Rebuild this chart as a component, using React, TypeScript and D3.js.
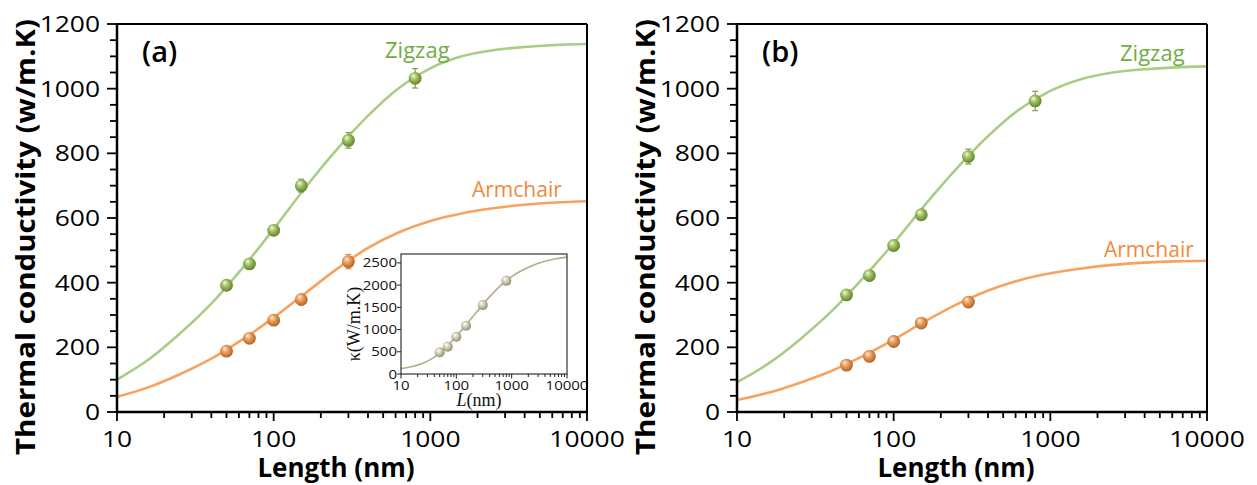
import * as d3 from 'd3'

const FIT_L = [10, 16, 25, 40, 63, 100, 158, 251, 398, 631, 1000, 1585, 2512, 3981, 6310, 10000]

const fitZigzagA = [100, 163, 241, 335, 444, 566, 692, 810, 915, 1002, 1063, 1100, 1119, 1129, 1135, 1138]
const fitArmchairA = [47, 77, 116, 165, 224, 292, 366, 441, 507, 556, 591, 614, 630, 641, 648, 652]
const fitZigzagB = [92, 151, 223, 311, 412, 522, 640, 752, 852, 935, 993, 1030, 1050, 1060, 1066, 1069]
const fitArmchairB = [37, 60, 90, 127, 172, 224, 280, 332, 375, 407, 429, 444, 455, 462, 466, 468]
const fitInset = [125, 169, 243, 381, 591, 851, 1141, 1443, 1735, 1990, 2190, 2340, 2453, 2535, 2592, 2630]

// measured points
const zigL = [50, 70, 100, 150, 300, 800]
const armL = [50, 70, 100, 150, 300]

const zigzagA = [392, 458, 562, 700, 840, 1032]
const zigzagAErr = [0, 0, 8, 20, 24, 30]
const armchairA = [188, 228, 284, 348, 465]
const armchairAErr = [0, 0, 0, 15, 22]

const zigzagB = [362, 422, 515, 610, 790, 962]
const zigzagBErr = [0, 0, 0, 10, 23, 30]
const armchairB = [145, 172, 218, 275, 340]
const armchairBErr = [0, 0, 0, 0, 12]

const insetVals = [487, 613, 838, 1085, 1550, 2096]

const yTicks = [0, 200, 400, 600, 800, 1000, 1200]
const xTicks = [10, 100, 1000, 10000]
const insetYTicks = [0, 500, 1000, 1500, 2000, 2500]

const FONT = '"Open Sans", "Noto Sans", sans-serif'
const SERIF = '"Liberation Serif", "DejaVu Serif", serif'
const TOP = 24
const BOTTOM = 412
const PW = 470

const GREEN_LINE = '#a9cd84'
const GREEN_TEXT = '#6fae45'
const ORANGE_LINE = '#f7a35f'
const ORANGE_TEXT = '#f08a3c'

const minorLog = (lo: number, hi: number) => {
  const out: number[] = []
  for (let d = lo; d < hi; d *= 10) for (let k = 2; k <= 9; k++) out.push(d * k)
  return out
}

function Sphere({ cx, cy, r, grad }: { cx: number; cy: number; r: number; grad: string }) {
  return <circle cx={cx} cy={cy} r={r} fill={`url(#${grad})`} />
}

function ErrBar({ x, y0, y1, color }: { x: number; y0: number; y1: number; color: string }) {
  return (
    <g stroke={color} strokeWidth={1.2}>
      <line x1={x} x2={x} y1={y0} y2={y1} />
      <line x1={x - 3} x2={x + 3} y1={y0} y2={y0} />
      <line x1={x - 3} x2={x + 3} y1={y1} y2={y1} />
    </g>
  )
}

function Inset() {
  const xi = d3.scaleLog().domain([10, 10000]).range([401, 567])
  const yi = d3.scaleLinear().domain([0, 2700]).range([374, 254])
  const line = d3.line<number>().x((_, i) => xi(FIT_L[i])).y((d) => yi(d)).curve(d3.curveMonotoneX)
  return (
    <g>
      <rect x={401} y={254} width={166} height={120} fill="#fff" />
      <path d={line(fitInset) || ''} fill="none" stroke="#b5ad8b" strokeWidth={1.6} />
      {zigL.map((l, i) => (
        <Sphere key={l} cx={xi(l)} cy={yi(insetVals[i])} r={5} grad="gInset" />
      ))}
      <rect x={401} y={254} width={166} height={120} fill="none" stroke="#222" strokeWidth={1.1} />
      {insetYTicks.map((t) => (
        <g key={t}>
          <line x1={397} x2={401} y1={yi(t)} y2={yi(t)} stroke="#222" strokeWidth={1} />
          <text transform={`translate(397,${yi(t) + 4.5}) scale(1.2,1)`} textAnchor="end" fontSize={12.5} fontFamily={FONT} fill="#111">{t}</text>
        </g>
      ))}
      {minorLog(10, 10000).map((t) => (
        <line key={t} x1={xi(t)} x2={xi(t)} y1={374} y2={377} stroke="#222" strokeWidth={1} />
      ))}
      {xTicks.map((t) => (
        <g key={t}>
          <line x1={xi(t)} x2={xi(t)} y1={374} y2={378.5} stroke="#222" strokeWidth={1} />
          <text transform={`translate(${xi(t)},390) scale(1.2,1)`} textAnchor="middle" fontSize={12.5} fontFamily={FONT} fill="#111">{t}</text>
        </g>
      ))}
      <text transform="translate(360,324) rotate(-90)" textAnchor="middle" fontSize={18} fontFamily={SERIF} fill="#111">κ(W/m.K)</text>
      <text x={479} y={406} textAnchor="middle" fontSize={18} fontFamily={SERIF} fill="#111">
        <tspan fontStyle="italic">L</tspan>(nm)
      </text>
    </g>
  )
}

type PanelProps = {
  left: number
  tag: string
  fitZ: number[]
  fitA: number[]
  zig: number[]
  zigErr: number[]
  arm: number[]
  armErr: number[]
  zigPos: [number, number]
  armPos: [number, number]
  inset?: boolean
}

function Panel({ left, tag, fitZ, fitA, zig, zigErr, arm, armErr, zigPos, armPos, inset }: PanelProps) {
  const x = d3.scaleLog().domain([10, 10000]).range([left, left + PW])
  const y = d3.scaleLinear().domain([0, 1200]).range([BOTTOM, TOP])
  const line = d3.line<number>().x((_, i) => x(FIT_L[i])).y((d) => y(d)).curve(d3.curveMonotoneX)
  const right = left + PW

  return (
    <g>
      <path d={line(fitZ) || ''} fill="none" stroke={GREEN_LINE} strokeWidth={2.6} />
      <path d={line(fitA) || ''} fill="none" stroke={ORANGE_LINE} strokeWidth={2.6} />

      {zig.map((v, i) =>
        zigErr[i] > 0 ? <ErrBar key={'ze' + i} x={x(zigL[i])} y0={y(v + zigErr[i])} y1={y(v - zigErr[i])} color="#7f9f45" /> : null
      )}
      {arm.map((v, i) =>
        armErr[i] > 0 ? <ErrBar key={'ae' + i} x={x(armL[i])} y0={y(v + armErr[i])} y1={y(v - armErr[i])} color="#e8883a" /> : null
      )}
      {zig.map((v, i) => (
        <Sphere key={'z' + i} cx={x(zigL[i])} cy={y(v)} r={6.4} grad="gGreen" />
      ))}
      {arm.map((v, i) => (
        <Sphere key={'a' + i} cx={x(armL[i])} cy={y(v)} r={6.4} grad="gOrange" />
      ))}

      <text x={zigPos[0]} y={zigPos[1]} fontSize={22} fontFamily={FONT} fill={GREEN_TEXT}>Zigzag</text>
      <text x={armPos[0]} y={armPos[1]} fontSize={21} fontFamily={FONT} fill={ORANGE_TEXT}>Armchair</text>

      {inset && <Inset />}

      {/* frame */}
      <line x1={left} x2={right} y1={TOP} y2={TOP} stroke="#000" strokeWidth={2} />
      <line x1={right} x2={right} y1={TOP} y2={BOTTOM} stroke="#000" strokeWidth={2} />
      <line x1={left} x2={left} y1={TOP - 1} y2={BOTTOM + 1} stroke="#000" strokeWidth={2.5} />
      <line x1={left - 1} x2={right + 1} y1={BOTTOM} y2={BOTTOM} stroke="#000" strokeWidth={2.5} />

      {/* y ticks */}
      {d3.range(0, 1201, 50).map((t) => (
        <line key={'ym' + t} x1={left - (t % 200 === 0 ? 10 : 7)} x2={left} y1={y(t)} y2={y(t)} stroke="#000" strokeWidth={1.8} />
      ))}
      {yTicks.map((t) => (
        <text key={'yl' + t} transform={`translate(${left - 17},${y(t) + 8}) scale(1.2,1)`} textAnchor="end" fontSize={22} fontFamily={FONT} fill="#000">{t}</text>
      ))}

      {/* x ticks */}
      {minorLog(10, 10000).map((t) => (
        <line key={'xm' + t} x1={x(t)} x2={x(t)} y1={BOTTOM} y2={BOTTOM + 6} stroke="#000" strokeWidth={1.8} />
      ))}
      {xTicks.map((t) => (
        <g key={'xl' + t}>
          <line x1={x(t)} x2={x(t)} y1={BOTTOM} y2={BOTTOM + 9} stroke="#000" strokeWidth={1.8} />
          <text transform={`translate(${x(t)},447) scale(1.2,1)`} textAnchor="middle" fontSize={22} fontFamily={FONT} fill="#000">{t}</text>
        </g>
      ))}

      <text x={left + 219} y={477} textAnchor="middle" fontSize={26} fontWeight="bold" fontFamily={FONT} fill="#000">Length (nm)</text>
      <text
        transform={`translate(${left - 82},237) rotate(-90)`}
        textAnchor="middle"
        fontSize={27}
        fontWeight="bold"
        fontFamily={FONT}
        fill="#000"
        textLength={436}
        lengthAdjust="spacingAndGlyphs"
      >
        Thermal conductivity (w/m.K)
      </text>
      <text x={left + 25} y={62} fontSize={29} fontWeight={600} fontFamily={FONT} fill="#000">{tag}</text>
    </g>
  )
}

export default function App() {
  return (
    <div style={{ position: 'absolute', left: 0, top: 0 }}>
      <svg width={1257} height={485} style={{ display: 'block', background: '#fff' }}>
        <defs>
          <radialGradient id="gGreen" cx="45%" cy="45%" r="60%" fx="35%" fy="28%">
            <stop offset="0%" stopColor="#f3fbe2" />
            <stop offset="40%" stopColor="#a5c566" />
            <stop offset="100%" stopColor="#5a7a28" />
          </radialGradient>
          <radialGradient id="gOrange" cx="45%" cy="45%" r="60%" fx="35%" fy="28%">
            <stop offset="0%" stopColor="#fff0dc" />
            <stop offset="40%" stopColor="#eea060" />
            <stop offset="100%" stopColor="#a85e20" />
          </radialGradient>
          <radialGradient id="gInset" cx="45%" cy="45%" r="60%" fx="35%" fy="28%">
            <stop offset="0%" stopColor="#ffffff" />
            <stop offset="40%" stopColor="#d9d5bd" />
            <stop offset="100%" stopColor="#8b876a" />
          </radialGradient>
        </defs>
        <Panel
          left={117}
          tag="(a)"
          fitZ={fitZigzagA}
          fitA={fitArmchairA}
          zig={zigzagA}
          zigErr={zigzagAErr}
          arm={armchairA}
          armErr={armchairAErr}
          zigPos={[385, 58]}
          armPos={[472, 197]}
          inset
        />
        <Panel
          left={737}
          tag="(b)"
          fitZ={fitZigzagB}
          fitA={fitArmchairB}
          zig={zigzagB}
          zigErr={zigzagBErr}
          arm={armchairB}
          armErr={armchairBErr}
          zigPos={[1120, 61]}
          armPos={[1104, 257]}
        />
      </svg>
    </div>
  )
}
